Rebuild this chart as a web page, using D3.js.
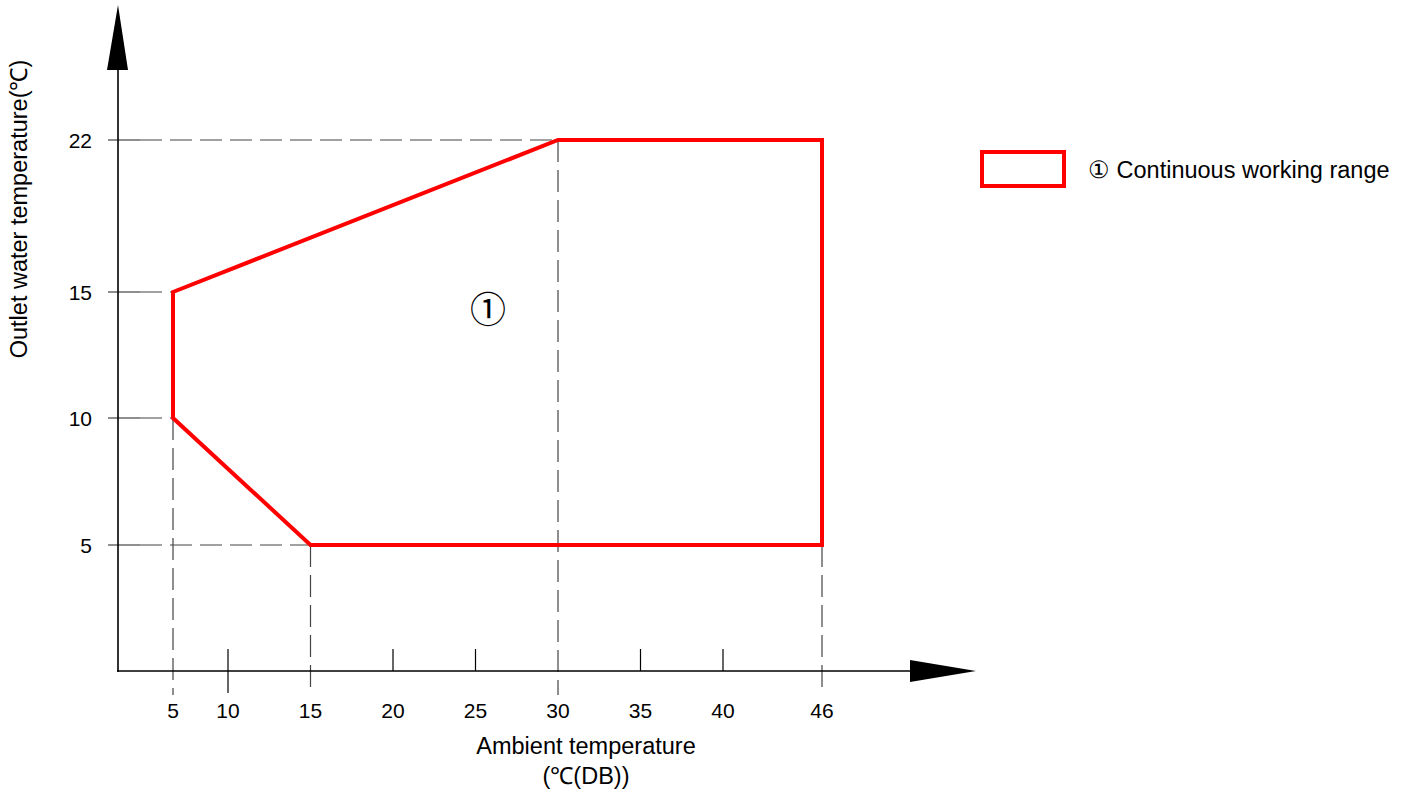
<!DOCTYPE html>
<html><head><meta charset="utf-8">
<script src="https://cdn.jsdelivr.net/npm/d3@7/dist/d3.min.js"></script>
<style>body{margin:0;background:#fff}</style>
</head><body>
<svg id="c" width="1411" height="794"></svg>
<script>
// Data
const xTicks = [5, 10, 15, 20, 25, 30, 35, 40, 46];
const yTicks = [5, 10, 15, 22];
const rangeX = [5, 30, 46, 46, 15, 5];
const rangeY = [15, 22, 22, 5, 5, 10];
const guideXs = [5, 15, 30, 46];          // vertical dashed guides
const guideXTop = [10, 5, 22, 5];         // y value where each vertical guide starts
const guideYs = [22, 15, 10, 5];          // horizontal dashed guides
const guideYEnd = [30, 5, 5, 46];         // x value where each horizontal guide ends
const legendLabel = "① Continuous working range";
const zoneLabel = "①";
const xTitle = ["Ambient temperature", "(℃(DB))"];
const yTitle = "Outlet water temperature(℃)";

const svg = d3.select("#c");
const font = "'Liberation Sans', Arial, sans-serif";

// Piecewise scales, as drawn in reference
const x = d3.scaleLinear().domain([0, 5, 10, 46]).range([118, 173, 228, 822]);
const y = d3.scaleLinear().domain([0, 5, 10, 15, 22]).range([671, 545, 418, 292, 140]);

const gray = "#444";
guideYs.forEach((v, i) => {
  svg.append("line").attr("x1", 108).attr("x2", 140).attr("y1", y(v)).attr("y2", y(v))
    .attr("stroke", gray).attr("stroke-width", 1.2);
  svg.append("line").attr("x1", 140).attr("x2", x(guideYEnd[i])).attr("y1", y(v)).attr("y2", y(v))
    .attr("stroke", gray).attr("stroke-width", 1.2).attr("stroke-dasharray", "22,8");
});
guideXs.forEach((v, i) => {
  svg.append("line").attr("x1", x(v)).attr("x2", x(v)).attr("y1", y(guideXTop[i])).attr("y2", 695)
    .attr("stroke", gray).attr("stroke-width", 1.2).attr("stroke-dasharray", "22,8");
});
xTicks.filter(t => !guideXs.includes(t)).forEach(t => {
  svg.append("line").attr("x1", x(t)).attr("x2", x(t)).attr("y1", 649).attr("y2", t === 10 ? 693 : 671)
    .attr("stroke", "#000").attr("stroke-width", 1.2);
});

// axes
svg.append("line").attr("x1", 118).attr("x2", 118).attr("y1", 60).attr("y2", 672)
  .attr("stroke", "#000").attr("stroke-width", 1.6);
svg.append("line").attr("x1", 117).attr("x2", 915).attr("y1", 671).attr("y2", 671)
  .attr("stroke", "#000").attr("stroke-width", 1.6);
svg.append("path").attr("d", "M118,5 L128,70 L107,70 Z").attr("fill", "#000");
svg.append("path").attr("d", "M976,671 L910,682 L910,660 Z").attr("fill", "#000");

// tick labels
svg.selectAll(".xl").data(xTicks).enter().append("text")
  .attr("x", d => x(d)).attr("y", 718).attr("text-anchor", "middle")
  .attr("font-family", font).attr("font-size", 21).text(d => d);
svg.selectAll(".yl").data(yTicks).enter().append("text")
  .attr("x", 92).attr("y", d => y(d) + 8).attr("text-anchor", "end")
  .attr("font-family", font).attr("font-size", 21).text(d => d);

// operating range polygon
const pts = rangeX.map((v, i) => [x(v), y(rangeY[i])]);
svg.append("path").attr("d", d3.line()(pts) + "Z")
  .attr("fill", "none").attr("stroke", "#ff0000").attr("stroke-width", 4)
  .attr("stroke-linejoin", "miter");

// zone label
svg.append("text").attr("x", 488).attr("y", 323).attr("text-anchor", "middle")
  .attr("font-family", "'Noto Sans CJK SC', 'DejaVu Serif', serif").attr("font-size", 36).text(zoneLabel);

// axis titles
svg.append("text").attr("x", 586).attr("y", 754).attr("text-anchor", "middle")
  .attr("font-family", font).attr("font-size", 23.5).text(xTitle[0]);
svg.append("text").attr("x", 586).attr("y", 784).attr("text-anchor", "middle")
  .attr("font-family", font).attr("font-size", 23.5).text(xTitle[1]);
svg.append("text").attr("transform", "translate(27,209) rotate(-90)").attr("text-anchor", "middle")
  .attr("font-family", font).attr("font-size", 23.5).text(yTitle);

// legend
svg.append("rect").attr("x", 982).attr("y", 152).attr("width", 82).attr("height", 34)
  .attr("fill", "none").attr("stroke", "#ff0000").attr("stroke-width", 4);
svg.append("text").attr("x", 1088).attr("y", 178)
  .attr("font-family", font).attr("font-size", 23.5).text(legendLabel);
</script>
</body></html>
